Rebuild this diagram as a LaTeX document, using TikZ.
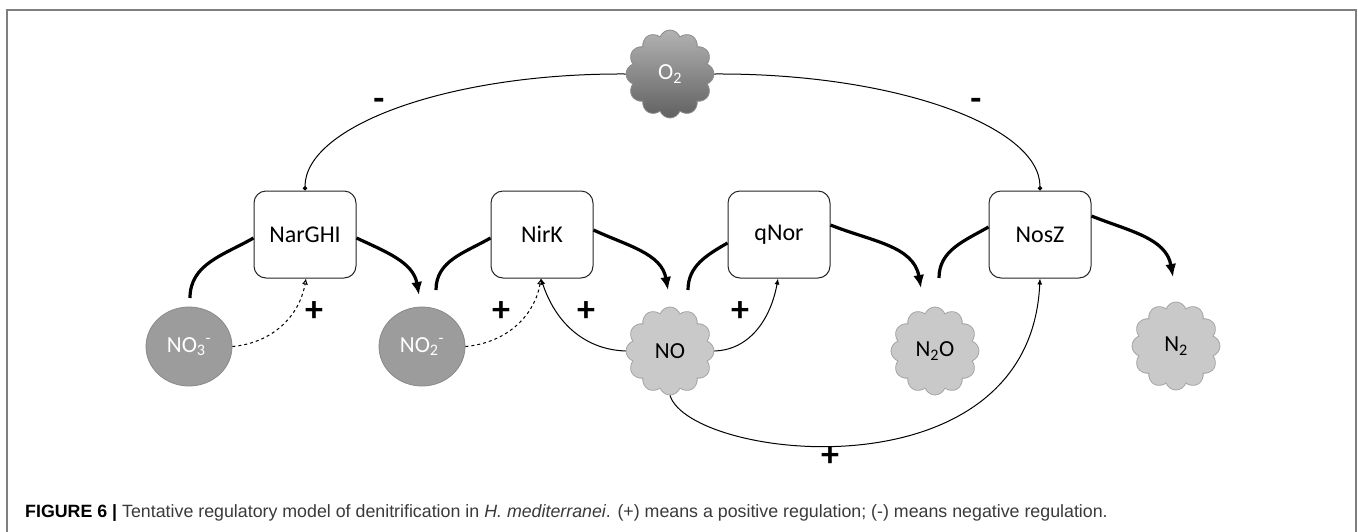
\documentclass[tikz,border=0pt]{standalone}
\usepackage{fontspec}
\setmainfont{Carlito}
\newfontfamily\capfont{Liberation Sans}
\usetikzlibrary{shapes.symbols,shapes.geometric,arrows.meta}
\definecolor{circfill}{HTML}{9C9C9C}
\definecolor{circdraw}{HTML}{8A8A8A}
\definecolor{cloudfill}{HTML}{C9C9C9}
\definecolor{clouddraw}{HTML}{A4A4A4}
\definecolor{framecol}{HTML}{7F7F7F}
\definecolor{capgray}{HTML}{3A3A3A}
\begin{document}
\begin{tikzpicture}[x=1pt,y=1pt,
  enz/.style={draw=black!85, line width=1pt, rounded corners=12pt, minimum width=102pt, minimum height=87pt, fill=white, inner sep=0pt, font=\fontsize{24}{26}\selectfont},
  ion/.style={ellipse, fill=circfill, draw=circdraw, line width=0.8pt, minimum width=86pt, minimum height=79pt, inner sep=0pt, text=white, font=\fontsize{23}{26}\selectfont},
  gas/.style={cloud, cloud puffs=12, cloud puff arc=140, aspect=0.95, fill=cloudfill, draw=clouddraw, line width=0.8pt, minimum width=88pt, minimum height=88pt, inner sep=0pt, font=\fontsize{23}{26}\selectfont},
  oxy/.style={gas, draw=black!45, top color=black!30, bottom color=black!62, text=white},
  flux/.style={line width=3.2pt, -{Latex[length=13pt,width=11pt]}},
  fluxin/.style={line width=3.2pt},
  reg/.style={line width=1pt, -{Latex[length=6pt,width=5pt]}},
  dreg/.style={line width=1pt, dashed, -{Latex[open,length=6pt,width=6pt]}},
  neg/.style={line width=1pt, -{Circle[length=4.5pt]}},
  sign/.style={font=\fontsize{36}{36}\selectfont\bfseries, inner sep=0pt}
]
\useasboundingbox (0,0) rectangle (1358,-531);
\fill[white] (0,0) rectangle (1358,-531);
\draw[framecol, line width=2pt] (7,-535) -- (7,-10) -- (1356,-10) -- (1356,-535);

% enzymes
\node[enz] (nar) at (305,-234.5) {NarGHI};
\node[enz] (nir) at (542,-234.5) {NirK};
\node[enz] (nor) at (779,-234.5) {qNor};
\node[enz] (nos) at (1040,-234.5) {NosZ};

% substrates
\node[ion] (no3) at (189,-346.5) {NO\textsubscript{3}\textsuperscript{-}};
\node[ion] (no2) at (422,-346.5) {NO\textsubscript{2}\textsuperscript{-}};
\node[gas] (no) at (670,-351) {NO};
\node[gas] (n2o) at (935,-351) {N\textsubscript{2}O};
\node[gas] (n2) at (1176,-346) {N\textsubscript{2}};
\node[oxy] (o2) at (670,-74) {O\textsubscript{2}};

% free ends of the thick flux arcs
\coordinate (s1) at (190,-298);
\coordinate (e1) at (419,-295);
\coordinate (s2) at (436,-290);
\coordinate (e2) at (668,-290);
\coordinate (s3) at (688,-290);
\coordinate (e3) at (921,-288);
\coordinate (s4) at (939,-278);
\coordinate (e4) at (1173,-277);

% flux arcs
\draw[fluxin] (s1) to[out=90,in=210] ([yshift=-3.5pt]nar.west);
\draw[flux] ([yshift=-3.5pt]nar.east) to[out=-25,in=100] (e1);
\draw[fluxin] (s2) to[out=90,in=210] ([yshift=-3.5pt]nir.west);
\draw[flux] ([yshift=4.5pt]nir.east) to[out=-25,in=100] (e2);
\draw[fluxin] (s3) to[out=90,in=210] ([yshift=-8.5pt]nor.west);
\draw[flux] ([yshift=9.5pt]nor.east) to[out=-22,in=100] (e3);
\draw[fluxin] (s4) to[out=90,in=210] ([yshift=7.5pt]nos.west);
\draw[flux] ([yshift=18.5pt]nos.east) to[out=-22,in=100] (e4);

% regulation
\draw[dreg] (no3.east) to[out=5,in=-100] ([xshift=1pt]nar.south);
\draw[dreg] (no2.east) to[out=5,in=-100] ([xshift=-1pt]nir.south);
\draw[reg] (no.west) to[out=178,in=-72] ([xshift=-1pt]nir.south);
\draw[reg] (no.east) to[out=2,in=-100] ([xshift=-1pt]nor.south);
\draw[reg] (no.south) .. controls (690,-460) and (1030,-500) .. (nos.south);

% oxygen repression
\draw[neg] (o2.west) .. controls (449,-73) and (305,-126) .. (nar.north);
\draw[neg] (o2.east) .. controls (894,-73) and (1040,-126) .. (nos.north);

% signs
\node[sign] (m1) at (379,-104) {-};
\node[sign] (m2) at (976,-104) {-};
\node[sign] (p1) at (314,-312) {+};
\node[sign] (p2) at (501,-312) {+};
\node[sign] (p3) at (586,-312) {+};
\node[sign] (p4) at (740,-312) {+};
\node[sign] (p5) at (830,-457) {+};

% caption
\node[anchor=west, inner sep=0pt, text=capgray] (cap) at (25,-513)
  {\capfont\fontsize{17.8}{20}\selectfont\textcolor{black}{\textbf{FIGURE 6 |}} Tentative regulatory model of denitrification in \textit{H. mediterranei}. (+) means a positive regulation; (-) means negative regulation.};
\end{tikzpicture}
\end{document}
